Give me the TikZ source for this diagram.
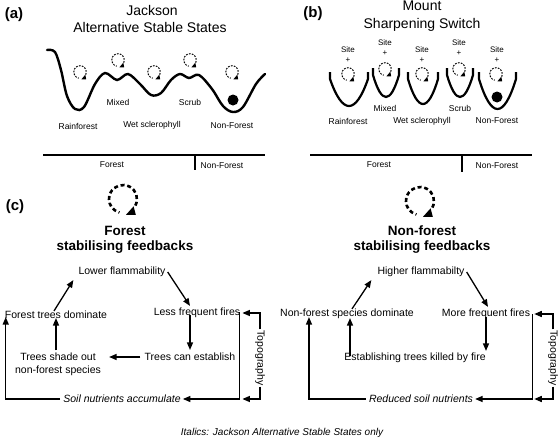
\documentclass[tikz,border=0pt]{standalone}
\usepackage{fontspec}
\setmainfont{Liberation Sans}
\usetikzlibrary{arrows.meta}
\tikzset{
  pics/fbsmall/.style={code={
    \begin{scope}[x=1pt,y=1pt]
      \draw[line width=1pt, dash pattern=on 1.7pt off 1.3pt] (-25:6.3) arc[start angle=-25, end angle=258, radius=6.3];
      \fill (1.4,-7.4) -- (6.2,-7.4) -- (5.3,-2.6) -- cycle;
    \end{scope}
  }},
  pics/fbbig/.style={code={
    \begin{scope}[x=1pt,y=1pt]
      \draw[line width=2.6pt, dash pattern=on 4pt off 2.8pt] (-28:14) arc[start angle=-28, end angle=255, radius=14];
      \fill (3.0,-15.8) -- (12.8,-15.8) -- (10.6,-7.3) -- cycle;
    \end{scope}
  }},
  pics/cupshape/.style n args={4}{code={
    \draw[line width=2.2pt] (#1,#3) -- (#1,#3+7)
      .. controls ({#1+0.33*(#2-#1)},{#3+7+(#4-#3-7)/0.75}) and ({#2-0.33*(#2-#1)},{#3+7+(#4-#3-7)/0.75}) ..
      (#2,#3+7) -- (#2,#3);
  }}
}
\begin{document}
\begin{tikzpicture}[x=1pt,y=-1pt,
  lab/.style={font=\fontsize{10.5}{12.5}\selectfont, inner sep=1pt, align=center},
  ilab/.style={font=\itshape\fontsize{10.5}{12.5}\selectfont, inner sep=1pt},
  sm/.style={font=\fontsize{8.5}{10}\selectfont, inner sep=0pt},
  site/.style={font=\fontsize{8}{9}\selectfont, inner sep=0pt},
  ttl/.style={font=\fontsize{14}{16}\selectfont, inner sep=0pt},
  pl/.style={font=\bfseries\fontsize{15}{17}\selectfont, inner sep=0pt},
  fb/.style={font=\bfseries\fontsize{13.5}{15}\selectfont, align=center, inner sep=0pt},
  arr/.style={line width=1.3pt, -{Triangle[length=7.5pt,width=6pt]}},
  ln/.style={line width=1.3pt},
  well/.style={line width=2.4pt, line cap=round},
  ball/.style={fill=black}
]
\useasboundingbox (0,0) rectangle (558,439);

% ---------------- panel (a)
\node[pl] (pa) at (14,15) {(a)};
\node[ttl] (ta1) at (152,10) {Jackson};
\node[ttl] (ta2) at (150,27) {Alternative Stable States};
\draw[well] plot[smooth, tension=0.55] coordinates {
 (47,50) (55,52) (61,70) (67,96) (75,109) (84,107) (95,84) (105,73) (117,80)
 (128,74) (140,84) (151,95) (161,93) (171,80) (180,74) (189,78) (199,75)
 (212,89) (223,106) (233,112) (243,107) (256,84) (265,74)};
\pic at (80,72) {fbsmall};
\pic at (118,60) {fbsmall};
\pic at (154,72) {fbsmall};
\pic at (190,60) {fbsmall};
\pic at (232,72) {fbsmall};
\fill[ball] (233,100) circle[radius=5.5pt];
\node[sm] (amix) at (118,102) {Mixed};
\node[sm] (ascr) at (190,102) {Scrub};
\node[sm] (arf) at (78,126) {Rainforest};
\node[sm] (aws) at (152,125) {Wet sclerophyll};
\node[sm] (anf) at (232,126) {Non-Forest};
\coordinate (al1) at (43,155);
\coordinate (al2) at (265,155);
\coordinate (at1) at (195,155);
\coordinate (at2) at (195,170);
\draw[ln] (al1) -- (al2);
\draw[ln] (at1) -- (at2);
\node[sm] (afo) at (112,165) {Forest};
\node[sm] (anf2) at (222,166) {Non-Forest};

% ---------------- panel (b)
\node[pl] (pb) at (313,14) {(b)};
\node[ttl] (tb1) at (422,6) {Mount};
\node[ttl] (tb2) at (422,25) {Sharpening Switch};
% cups
\pic {cupshape={330}{368}{72}{106}};
\pic {cupshape={373}{399}{68}{97}};
\pic {cupshape={408}{438}{72}{104}};
\pic {cupshape={447}{473}{68}{97}};
\pic {cupshape={479}{516}{72}{109}};
\pic at (348,74) {fbsmall};
\pic at (385,69) {fbsmall};
\pic at (422,74) {fbsmall};
\pic at (459,69) {fbsmall};
\pic at (496,74) {fbsmall};
\fill[ball] (497,97) circle[radius=5.5pt];
\node[site] (s1) at (348,50) {Site};
\node[site] (p1) at (348,60) {+};
\node[site] (s2) at (385,43) {Site};
\node[site] (p2) at (385,53) {+};
\node[site] (s3) at (422,50) {Site};
\node[site] (p3) at (422,60) {+};
\node[site] (s4) at (459,43) {Site};
\node[site] (p4) at (459,53) {+};
\node[site] (s5) at (497,50) {Site};
\node[site] (p5) at (497,60) {+};
\node[sm] (bmix) at (385,108) {Mixed};
\node[sm] (bscr) at (460,108) {Scrub};
\node[sm] (brf) at (348,121) {Rainforest};
\node[sm] (bws) at (422,121) {Wet sclerophyll};
\node[sm] (bnf) at (497,121) {Non-Forest};
\coordinate (bl1) at (310,155);
\coordinate (bl2) at (532,155);
\coordinate (bt1) at (462,155);
\coordinate (bt2) at (462,172);
\draw[ln] (bl1) -- (bl2);
\draw[ln] (bt1) -- (bt2);
\node[sm] (bfo) at (379,165) {Forest};
\node[sm] (bnf2) at (497,166) {Non-Forest};

% ---------------- panel (c)
\node[pl] (pc) at (15,207) {(c)};
\pic at (123,199) {fbbig};
\pic at (420,201) {fbbig};
\node[fb] (ff) at (125,240) {Forest\\stabilising feedbacks};
\node[fb] (nf) at (422,240) {Non-forest\\stabilising feedbacks};

% left cycle
\node[lab] (lf) at (122,272) {Lower flammability};
\node[lab] (ftd) at (56,315) {Forest trees dominate};
\node[lab] (lff) at (197,313) {Less frequent fires};
\node[lab] (tce) at (190,357) {Trees can establish};
\node[lab, font=\fontsize{10.5}{13}\selectfont] (tso) at (58,364) {Trees shade out\\non-forest species};
\node[ilab] (sna) at (122,399) {Soil nutrients accumulate};
\node[lab, rotate=-90, fill=white, inner sep=1pt] (topo) at (260,358) {Topography};

\draw[arr] ([xshift=-2pt,yshift=-1pt]ftd.north) -- ([xshift=-4pt,yshift=-2pt]lf.south west);
\draw[arr] ([xshift=1pt]lf.east) -- ([xshift=-7pt,yshift=1pt]lff.north);
\draw[arr] ([yshift=4pt]lff.south -| tce.north) -- ([yshift=2pt]tce.north);
\draw[arr] ([xshift=-3pt]tce.west) -- ([xshift=7pt]tso.east |- tce.west);
\draw[arr] ([yshift=1pt]tso.north -| ftd.south) -- ([yshift=2pt]ftd.south);
\draw[arr] ([xshift=-2pt,yshift=7pt]lff.south east) |- ([xshift=1pt]sna.east);
\draw[arr] ([xshift=-2pt]sna.west) -| ([xshift=2pt,yshift=3pt]ftd.south west);
\draw[arr] (topo.west) |- ([xshift=1pt]lff.east);
\draw[arr] (topo.east) |- ([xshift=1pt]lff.east |- sna.east);

% right cycle
\node[lab] (hf) at (421,272) {Higher flammabilty};
\node[lab] (nsd) at (347,314) {Non-forest species dominate};
\node[lab] (mff) at (486,314) {More frequent fires};
\node[lab] (etk) at (415,358) {Establishing trees killed by fire};
\node[ilab] (rsn) at (421,399) {Reduced soil nutrients};
\node[lab, rotate=-90, fill=white, inner sep=1pt] (topo2) at (553,358) {Topography};

\draw[arr] ([xshift=5pt,yshift=-1pt]nsd.north) -- ([xshift=-5pt,yshift=-2pt]hf.south west);
\draw[arr] ([xshift=1pt]hf.east) -- ([xshift=2pt,yshift=1pt]mff.north);
\draw[arr] ([yshift=3pt]mff.south) -- ([yshift=1pt]mff.south |- etk.north);
\draw[arr] ([xshift=3pt,yshift=-4pt]etk.north -| nsd.north) -- ([xshift=3pt,yshift=2pt]nsd.south);
\draw[arr] ([xshift=1pt,yshift=6pt]mff.south east) |- ([xshift=1pt]rsn.east);
\draw[arr] ([xshift=-2pt]rsn.west) -| ([xshift=30pt,yshift=3pt]nsd.south west);
\draw[arr] (topo2.west) |- ([xshift=3pt]mff.east);
\draw[arr] (topo2.east) |- ([xshift=3pt]mff.east |- rsn.east);

\node[font=\itshape\fontsize{10}{12}\selectfont, inner sep=0pt] (note) at (282,433) {Italics: Jackson Alternative Stable States only};
\end{tikzpicture}
\end{document}
